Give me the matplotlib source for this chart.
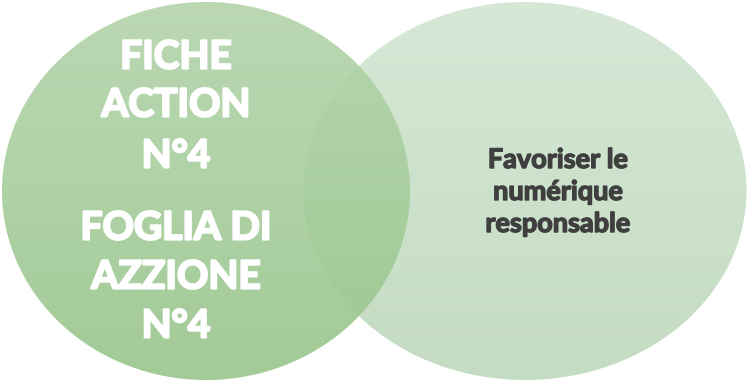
import numpy as np
import matplotlib.pyplot as plt
import matplotlib.patheffects as pe
from matplotlib.patches import Ellipse

# texts of the two circles
left_lines = ['FICHE', 'ACTION', 'N°4', 'FOGLIA DI', 'AZZIONE', 'N°4']
left_y = [57, 105, 156, 228, 277, 326]
right_lines = ['Favoriser le', 'numérique', 'responsable']
right_y = [160, 192, 224]

W, H = 747, 382
fig = plt.figure(figsize=(W / 100, H / 100), dpi=100)
ax = fig.add_axes([0, 0, 1, 1])
ax.set_xlim(0, W)
ax.set_ylim(H, 0)
ax.axis('off')


def grad_ellipse(cx, cy, w, h, top, bottom, alpha, z):
    e = Ellipse((cx, cy), w, h, facecolor='none', edgecolor='none', zorder=z)
    ax.add_patch(e)
    t = np.linspace(0, 1, 256)[:, None]
    c0 = np.array(plt.matplotlib.colors.to_rgb(top))
    c1 = np.array(plt.matplotlib.colors.to_rgb(bottom))
    img = (c0 * (1 - t) + c1 * t)[:, None, :]
    im = ax.imshow(img, extent=(cx - w / 2, cx + w / 2, cy + h / 2, cy - h / 2),
                   aspect='auto', alpha=alpha, zorder=z, interpolation='bilinear')
    im.set_clip_path(e)


grad_ellipse(525, 191, 443, 378, '#d6e8d6', '#c4dcc2', 1.0, 1)
grad_ellipse(206, 191, 408, 378, '#b3d4ab', '#98c58b', 0.9, 2)

for s, y in zip(left_lines, left_y):
    ax.text(176, y, s, color='white', fontsize=28, fontweight='bold',
            family='Lato', ha='center', va='center', zorder=5,
            path_effects=[pe.withStroke(linewidth=1.6, foreground='white')])
for s, y in zip(right_lines, right_y):
    ax.text(558, y, s, color='#3f3f3f', fontsize=19.5, fontweight='bold',
            family='Lato', ha='center', va='center', zorder=5,
            path_effects=[pe.withStroke(linewidth=1.0, foreground='#3f3f3f')])

fig.savefig('out.png', dpi=100)
